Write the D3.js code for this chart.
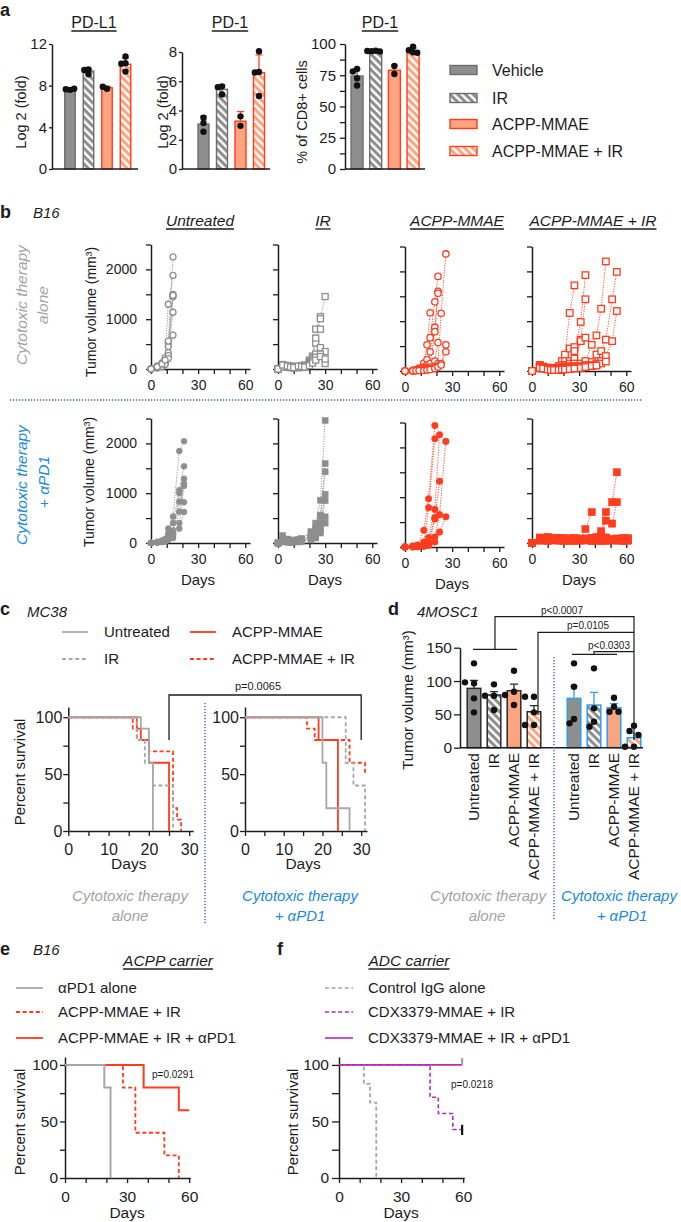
<!DOCTYPE html>
<html><head><meta charset="utf-8">
<script src="https://cdn.jsdelivr.net/npm/d3@7"></script>
<style>body{margin:0;background:#fff}svg{display:block;background:#fff}</style>
</head><body><svg id="c" width="681" height="1222"></svg>
<script>
// ---------------- DATA ----------------
// Panel a
const aGroups = ["Vehicle", "IR", "ACPP-MMAE", "ACPP-MMAE + IR"];
const pdl1Mean = [7.65, 9.4, 7.8, 10.05];
const pdl1Err = [0.05, 0.2, 0.12, 0.6];
const pdl1Pts = [[7.6, 7.65, 7.7], [9.55, 9.5, 9.1], [7.7, 7.9], [10.8, 10.15, 10.1, 9.35]];
const pd1Mean = [3.07, 5.45, 3.27, 6.58];
const pd1Err = [0.55, 0.3, 0.65, 1.22];
const pd1Pts = [[3.5, 3.15, 2.55], [5.65, 5.6, 5.1], [3.6, 2.95], [8.05, 6.64, 6.6, 4.99]];
const cd8Mean = [74.4, 94.3, 79, 94.6];
const cd8Err = [5.5, 0.6, 4, 2.2];
const cd8Pts = [[80, 78, 72.6, 66.8], [94.6, 94.3, 94.1, 94.4], [82.4, 76], [97.9, 95, 93.4, 93]];

// Panel b (tumour growth per mouse: day, volume mm3)
const untreatedAloneDays = [0, 4, 7, 9, 11, 14];
const untreatedAlone = [
  [0, 40, 90, 200, 520, 2250], [0, 60, 120, 230, 1300, 1880], [0, 30, 70, 150, 330, 1500],
  [0, 50, 80, 130, 450, 1450], [0, 20, 60, 110, 270, 1140], [0, 35, 50, 90, 210, 680],
  [0, 45, 100, 180, 560, 1480]];
const irAloneDays = [0, 3, 6, 8, 10, 13, 15, 17, 20, 22, 24, 27, 30];
const irAlone = [
  [0, 90, 70, 50, 40, 50, 60, 80, 180, 260, 520, 1050, 1455],
  [0, 70, 60, 40, 50, 40, 50, 70, 150, 230, 800, 1010],
  [0, 60, 50, 60, 30, 30, 40, 60, 130, 200, 620, 800],
  [0, 50, 40, 30, 40, 50, 30, 50, 110, 180, 300, 430, 350],
  [0, 40, 50, 30, 20, 30, 40, 40, 90, 150, 235, 300, 110],
  [0, 80, 60, 40, 30, 60, 50, 40, 70, 120, 180, 250, 200]];
const acppAloneDays = [0, 5, 7, 9, 12, 14, 16, 19, 21, 23, 26];
const acppAlone = [
  [0, 10, 20, 60, 160, 525, 1170],
  [0, 15, 25, 40, 80, 230, 670, 1390, 1900],
  [0, 10, 20, 30, 50, 120, 385, 880, 1600],
  [0, 5, 15, 20, 40, 80, 150, 790, 1560],
  [0, 5, 10, 20, 30, 50, 80, 200, 570],
  [0, 5, 10, 15, 20, 30, 50, 90, 150, 1160, 2350],
  [0, 5, 10, 10, 15, 25, 40, 60, 100, 150, 525],
  [0, 5, 5, 10, 10, 20, 30, 50, 80, 120, 385]];
const acppIrAloneDays = [0, 5, 7, 10, 12, 14, 17, 19, 21, 24, 27, 31, 34, 38, 41, 44, 47, 51, 54];
const acppIrAlone = [
  [0, 120, 90, 60, 50, 60, 100, 200, 330, 1165, 1720],
  [0, 100, 80, 60, 40, 50, 70, 120, 200, 450, 480],
  [0, 110, 70, 50, 60, 40, 60, 80, 120, 200, 400, 985, 1925],
  [0, 90, 80, 70, 40, 50, 50, 70, 100, 150, 250, 630, 1440],
  [0, 80, 60, 40, 30, 40, 50, 60, 80, 100, 150, 600, 670],
  [0, 100, 70, 50, 40, 30, 40, 50, 60, 80, 100, 150, 200, 525, 715, 1250, 2200],
  [0, 90, 60, 50, 40, 30, 30, 40, 50, 60, 80, 100, 120, 180, 330, 400, 630, 1440, 1990],
  [0, 80, 60, 40, 30, 20, 30, 40, 50, 60, 70, 80, 100, 120, 150, 200, 300, 600, 1205],
  [0, 70, 50, 40, 30, 20, 30, 30, 40, 50, 60, 70, 80, 100, 120, 150, 190],
  [0, 60, 50, 30, 20, 20, 20, 30, 30, 40, 50, 60, 80, 100, 110]];
const untreatedPD1Days = [0, 4, 7, 9, 11, 14, 18, 21];
const untreatedPD1 = [
  [0, 20, 50, 80, 150, 530, 1845, 2045], [0, 25, 40, 60, 290, 400, 1060, 1540],
  [0, 10, 30, 70, 200, 250, 830, 1290], [0, 15, 30, 50, 100, 200, 630, 1190],
  [0, 10, 20, 40, 80, 150, 400, 1145], [0, 10, 20, 30, 60, 100, 290, 625],
  [0, 15, 35, 60, 120, 180, 1000, 820]];
const irPD1Days = [0, 3, 6, 8, 10, 13, 15, 21, 24, 27, 30];
const irPD1 = [
  [0, 150, 80, 60, 50, 70, 80, 230, 400, 860, 2460],
  [0, 100, 60, 40, 60, 50, 90, 200, 300, 560, 1595],
  [0, 80, 50, 30, 40, 60, 70, 150, 250, 525, 1430],
  [0, 60, 40, 50, 30, 40, 60, 120, 200, 400, 980],
  [0, 40, 30, 20, 30, 30, 50, 100, 150, 300, 850],
  [0, 30, 20, 20, 20, 30, 40, 80, 120, 250, 525],
  [0, 20, 20, 10, 20, 20, 30, 60, 100, 200, 400]];
const acppPD1Days = [0, 5, 8, 12, 15, 19, 22, 26];
const acppPD1 = [
  [0, 20, 40, 335, 970, 2440], [0, 10, 30, 100, 790, 2175],
  [0, 10, 20, 50, 190, 755, 2255], [0, 5, 10, 30, 100, 590, 1320],
  [0, 5, 10, 20, 50, 200, 650, 2120], [0, 5, 10, 20, 40, 100, 300, 605],
  [0, 5, 8, 15, 30, 560]];
const acppIrPD1Days = [0, 5, 10, 14, 17, 20, 24, 27, 31, 34, 38, 41, 44, 47, 51, 54, 58, 61];
const acppIrPD1 = [
  [0, 90, 110, 80, 70, 90, 60, 80, 70, 280, 620],
  [0, 100, 80, 90, 100, 80, 90, 70, 80, 90, 100, 120, 235, 620, 820, 1420],
  [0, 80, 90, 100, 70, 60, 80, 90, 60, 70, 80, 100, 150, 450, 390, 820],
  [0, 110, 100, 90, 100, 80, 90, 100, 80, 70, 90, 80, 100, 90, 80, 90, 100, 80],
  [0, 70, 60, 80, 60, 70, 50, 60, 70, 60, 50, 70, 60, 50, 60, 70, 80, 60],
  [0, 50, 40, 60, 50, 40, 50, 40, 50, 60, 40, 50, 40, 50, 60, 50, 40, 50],
  [0, 90, 120, 70, 90, 100, 80, 60, 90, 80, 100, 70, 90, 110, 70, 60, 90, 100]];

// Panel c (Kaplan-Meier steps: [day, % survival after drop])
const cLegend = ["Untreated", "IR", "ACPP-MMAE", "ACPP-MMAE + IR"];
const kmAloneUntreated = [[0, 100], [18, 90], [20, 60], [21, 0]];
const kmAloneIR = [[0, 100], [17, 80], [19, 60], [21, 40], [26, 0]];
const kmAloneACPP = [[0, 100], [17, 90], [18, 80], [20, 60], [25, 0]];
const kmAloneACPPIR = [[0, 100], [16, 90], [17, 80], [20, 70], [26, 20], [27, 10], [28, 0]];
const kmPD1Untreated = [[0, 100], [20, 60], [21, 20], [27, 0]];
const kmPD1IR = [[0, 100], [26, 60], [28, 40], [31, 0]];
const kmPD1ACPP = [[0, 100], [19, 80], [24, 0]];
const kmPD1ACPPIR = [[0, 100], [16, 90], [18, 80], [27, 60], [31, 50]];

// Panel d
const dGroups = ["Untreated", "IR", "ACPP-MMAE", "ACPP-MMAE + IR"];
const dAloneMean = [89, 79, 85.5, 54];
const dAloneSem = [12, 5, 10, 9];
const dAlonePts = [[126.5, 96.5, 98, 74, 53], [95, 78, 78, 56.5], [115.5, 84, 79, 64], [76.5, 76.5, 53, 34, 34]];
const dPD1Mean = [74, 64, 60, 15];
const dPD1Sem = [18, 19, 6, 7];
const dPD1Pts = [[126.5, 91.5, 43, 36.5], [119, 59, 39, 31.5], [75, 61.5, 54, 54], [33, 25, 19, 1.5, 1.5]];
const dPvals = ["p<0.0007", "p=0.0105", "p<0.0303"];

// Panel e
const eLegend = ["\u03b1PD1 alone", "ACPP-MMAE + IR", "ACPP-MMAE + IR + \u03b1PD1"];
const kmE_PD1 = [[0, 100], [19, 80], [22, 0]];
const kmE_ACPPIR = [[0, 100], [28, 80], [34, 40], [48, 20], [55, 0]];
const kmE_ACPPIRPD1 = [[0, 100], [38, 80], [55, 60], [60, 60]];
// Panel f
const fLegend = ["Control IgG alone", "CDX3379-MMAE + IR", "CDX3379-MMAE + IR + \u03b1PD1"];
const kmF_IgG = [[0, 100], [12, 83.3], [15, 66.7], [18, 0]];
const kmF_CDXIR = [[0, 100], [44, 71.4], [48, 57.1], [55, 42.9], [59.5, 42.9]];
const kmF_CDXIRPD1 = [[0, 100], [59.5, 100]];

// ---------------- DRAWING ----------------
const FONT = "'Liberation Sans', Arial, Helvetica, sans-serif";
const DARK = "#1c1c1c", GRAY = "#8e8e8e", GRAY_S = "#6e6e6e", ORANGE = "#fba47f", RED = "#ff3c1e",
  LGRAY = "#a8a8a8", TGRAY = "#a3a3a3", BLUE_T = "#1b8ad8", BLUE_SEP = "#3b62c4", PURPLE = "#b32db8", BAR_BLUE = "#2b9ff0";
const svg = d3.select("#c").attr("font-family", FONT);
const defs = svg.append("defs");
function hatch(id, bg) {
  const p = defs.append("pattern").attr("id", id).attr("patternUnits", "userSpaceOnUse")
    .attr("width", 5.5).attr("height", 5.5).attr("patternTransform", "rotate(-45)");
  p.append("rect").attr("width", 5.5).attr("height", 5.5).attr("fill", bg);
  p.append("rect").attr("width", 2.4).attr("height", 5.5).attr("fill", "#fff");
}
hatch("hg", GRAY); hatch("ho", ORANGE);

function T(x, y, s, o = {}) {
  const t = svg.append("text").attr("x", x).attr("y", y).text(s)
    .attr("font-size", o.fs || 15).attr("text-anchor", o.anchor || "start")
    .attr("fill", o.fill || DARK);
  if (o.italic) t.attr("font-style", "italic");
  if (o.bold) t.attr("font-weight", "bold");
  if (o.dy) t.attr("dy", o.dy);
  if (o.rot) t.attr("transform", `rotate(${o.rot},${x},${y})`);
  if (o.ul) {
    const w = t.node().getComputedTextLength();
    const x0 = o.anchor === "middle" ? x - w / 2 : x;
    svg.append("line").attr("x1", x0).attr("x2", x0 + w).attr("y1", y + 3).attr("y2", y + 3)
      .attr("stroke", o.fill || DARK).attr("stroke-width", 1.3);
  }
  return t;
}
function styleAx(g, fs) {
  g.attr("font-family", FONT).attr("font-size", fs);
  g.select(".domain").attr("stroke", DARK).attr("stroke-width", 1.5);
  g.selectAll(".tick line").attr("stroke", DARK).attr("stroke-width", 1.3);
  g.selectAll(".tick text").attr("fill", DARK);
}
function axL(x, scale, ticks, labels, o = {}) {
  const g = svg.append("g").attr("transform", `translate(${x},0)`);
  g.call(d3.axisLeft(scale).tickValues(ticks).tickFormat(d => labels.includes(d) ? String(d) : "")
    .tickSize(o.ts ?? 5).tickPadding(o.tp ?? 3).tickSizeOuter(0));
  styleAx(g, o.fs ?? 15);
  return g;
}
function axB(y, scale, ticks, labels, o = {}) {
  const g = svg.append("g").attr("transform", `translate(0,${y})`);
  g.call(d3.axisBottom(scale).tickValues(ticks).tickFormat(d => labels.includes(d) ? String(d) : "")
    .tickSize(o.ts ?? 5).tickPadding(o.tp ?? 6).tickSizeOuter(0));
  styleAx(g, o.fs ?? 14);
  return g;
}
function dodge(vals, y, cx, minDist, step) {
  const placed = [];
  return vals.map(v => {
    const yy = y(v);
    for (const o of [0, -step, step, -2 * step, 2 * step]) {
      if (placed.every(p => Math.hypot(p[0] - (cx + o), p[1] - yy) >= minDist)) {
        placed.push([cx + o, yy]); return [cx + o, yy];
      }
    }
    placed.push([cx, yy]); return [cx, yy];
  });
}
const fills = [GRAY, "url(#hg)", ORANGE, "url(#ho)"];
const strokes = [GRAY_S, GRAY_S, RED, RED];

// Panel labels
T(0, 16, "a", { fs: 18, bold: true });
T(0, 218, "b", { fs: 18, bold: true }); T(33, 218, "B16", { fs: 15, italic: true });
T(0, 615, "c", { fs: 18, bold: true }); T(27, 617, "MC38", { fs: 15, italic: true });
T(388, 615, "d", { fs: 18, bold: true }); T(417, 617, "4MOSC1", { fs: 15, italic: true });
T(0, 955, "e", { fs: 18, bold: true }); T(33, 955, "B16", { fs: 15, italic: true });
T(277, 955, "f", { fs: 18, bold: true });

// ---- Panel a ----
function barPanel(cfg) {
  const y = d3.scaleLinear().domain(cfg.dom).range([169, cfg.top]);
  const xb = d3.scaleBand().domain(aGroups).range([cfg.start, cfg.start + 4 * cfg.step]);
  aGroups.forEach((g, i) => {
    const cx = xb(g) + cfg.step / 2;
    svg.append("rect").attr("x", cx - cfg.bw / 2).attr("y", y(cfg.mean[i])).attr("width", cfg.bw)
      .attr("height", y(0) - y(cfg.mean[i])).attr("fill", fills[i]).attr("stroke", strokes[i]).attr("stroke-width", 1.4);
    const ye = y(cfg.mean[i] + cfg.err[i]);
    svg.append("path").attr("d", `M${cx},${y(cfg.mean[i])}V${ye}M${cx - 3.5},${ye}H${cx + 3.5}`)
      .attr("stroke", strokes[i]).attr("stroke-width", 1.3).attr("fill", "none");
    dodge(cfg.pts[i], y, cx, 4.2, 4.2).forEach(p =>
      svg.append("circle").attr("cx", p[0]).attr("cy", p[1]).attr("r", 3.2).attr("fill", "#111"));
  });
  axL(cfg.ax, y, cfg.ticks, cfg.labels, { ts: cfg.ts, tp: cfg.tp, fs: 15 });
  svg.append("line").attr("x1", cfg.ax).attr("x2", cfg.xend).attr("y1", 169).attr("y2", 169)
    .attr("stroke", DARK).attr("stroke-width", 1.5);
  T(cfg.titleX, 28, cfg.title, { fs: 16, anchor: "middle", ul: true });
  T(cfg.ylx, 112, cfg.ylab, { fs: 14.5, anchor: "middle", rot: -90, dy: "0.35em" });
}
barPanel({ dom: [0, 12], top: 44, start: 60.75, step: 18.5, bw: 10.5, ax: 52, xend: 138, mean: pdl1Mean, err: pdl1Err, pts: pdl1Pts,
  ticks: [0, 4, 8, 12], labels: [0, 4, 8, 12], ts: 3, tp: 2, title: "PD-L1", titleX: 94, ylab: "Log 2 (fold)", ylx: 21 });
barPanel({ dom: [0, 8], top: 52, start: 194.25, step: 18.5, bw: 11, ax: 182, xend: 270, mean: pd1Mean, err: pd1Err, pts: pd1Pts,
  ticks: [0, 2, 4, 6, 8], labels: [0, 2, 4, 6, 8], ts: 3, tp: 2, title: "PD-1", titleX: 230, ylab: "Log 2 (fold)", ylx: 163 });
barPanel({ dom: [0, 100], top: 44, start: 347.7, step: 18.67, bw: 12, ax: 345, xend: 425, mean: cd8Mean, err: cd8Err, pts: cd8Pts,
  ticks: d3.range(0, 101, 12.5), labels: [0, 25, 50, 75, 100], ts: 5, tp: 4, title: "PD-1", titleX: 380, ylab: "% of CD8+ cells", ylx: 302 });
// legend a
aGroups.forEach((g, i) => {
  const yy = [70, 98, 124, 151][i];
  svg.append("rect").attr("x", 450).attr("y", yy - 4.5).attr("width", 27).attr("height", 9)
    .attr("fill", fills[i]).attr("stroke", strokes[i]).attr("stroke-width", 1.4);
  T(492, yy, g, { fs: 16, dy: "0.35em" });
});

// ---- Panel b ----
const bCols = [
  { title: "Untreated", tx: 200, x0: 151, top: [untreatedAloneDays, untreatedAlone, "circle", false, GRAY, 3], bot: [untreatedPD1Days, untreatedPD1, "circle", true, GRAY, 3] },
  { title: "IR", tx: 323, x0: 278, top: [irAloneDays, irAlone, "square", false, GRAY, 6], bot: [irPD1Days, irPD1, "square", true, GRAY, 6] },
  { title: "ACPP-MMAE", tx: 457, x0: 405, top: [acppAloneDays, acppAlone, "circle", false, RED, 3.2], bot: [acppPD1Days, acppPD1, "circle", true, RED, 3.3] },
  { title: "ACPP-MMAE + IR", tx: 593, x0: 532, top: [acppIrAloneDays, acppIrAlone, "square", false, RED, 6.5], bot: [acppIrPD1Days, acppIrPD1, "square", true, RED, 7.2] }];
const topBase = [369, 369, 371, 371], botBase = [543, 543, 547, 543];
function spaghetti(ci, base, spec, row) {
  const col = bCols[ci];
  const x = d3.scaleLinear().domain([0, 63]).range([col.x0, col.x0 + 99]);
  const y = d3.scaleLinear().domain([0, 2500]).range([base, base - 124.5]);
  axL(col.x0, y, d3.range(0, 2501, 500), ci === 0 ? [0, 1000, 2000] : [], { ts: 5, tp: 9, fs: 14 });
  axB(base, x, d3.range(0, 61, 10), [0, 30, 60], { ts: 5, tp: 6, fs: 14 });
  const [days, vals, shape, filled, color, size] = spec;
  const mice = vals.map(v => v.map((val, i) => [days[i], val]));
  const line = d3.line().x(d => x(d[0])).y(d => y(d[1]));
  const g = svg.append("g");
  mice.forEach(m => g.append("path").attr("d", line(m)).attr("fill", "none").attr("stroke", color)
    .attr("stroke-width", 0.9).attr("stroke-dasharray", "1.2,1.3"));
  mice.forEach(m => m.forEach(d => {
    const mk = shape === "circle"
      ? g.append("circle").attr("cx", x(d[0])).attr("cy", y(d[1])).attr("r", size)
      : g.append("rect").attr("x", x(d[0]) - size / 2).attr("y", y(d[1]) - size / 2).attr("width", size).attr("height", size);
    mk.attr("fill", filled ? color : "#fff").attr("stroke", color).attr("stroke-width", filled ? 0.5 : 1.3);
  }));
  if (row === 1) T(col.x0 + 47, base + 42, "Days", { fs: 15, anchor: "middle" });
}
bCols.forEach((c, i) => {
  T(c.tx, 226, c.title, { fs: 15.5, anchor: "middle", italic: true, ul: true });
  spaghetti(i, topBase[i], c.top, 0);
  spaghetti(i, botBase[i], c.bot, 1);
});
T(91, 312, "Tumor volume (mm\u00b3)", { fs: 14, anchor: "middle", rot: -90, dy: "0.35em" });
T(89, 482, "Tumor volume (mm\u00b3)", { fs: 14, anchor: "middle", rot: -90, dy: "0.35em" });
T(22, 305, "Cytotoxic therapy", { fs: 15.5, anchor: "middle", rot: -90, dy: "0.35em", italic: true, fill: TGRAY });
T(43, 305, "alone", { fs: 15.5, anchor: "middle", rot: -90, dy: "0.35em", italic: true, fill: TGRAY });
T(22, 485, "Cytotoxic therapy", { fs: 15.5, anchor: "middle", rot: -90, dy: "0.35em", italic: true, fill: BLUE_T });
T(44, 482, "+ \u03b1PD1", { fs: 15.5, anchor: "middle", rot: -90, dy: "0.35em", italic: true, fill: BLUE_T });
svg.append("line").attr("x1", 10).attr("x2", 642).attr("y1", 400).attr("y2", 400)
  .attr("stroke", BLUE_SEP).attr("stroke-width", 1.4).attr("stroke-dasharray", "1.3,1.7");

// ---- Panel c ----
const kmStep = d3.line().curve(d3.curveStepAfter);
function km(x, y, pts, color, dashed, w = 1.8) {
  svg.append("path").attr("d", kmStep.x(d => x(d[0])).y(d => y(d[1]))(pts)).attr("fill", "none")
    .attr("stroke", color).attr("stroke-width", w).attr("stroke-dasharray", dashed ? "4,2.6" : null);
}
const cY = d3.scaleLinear().domain([0, 109]).range([831, 707]);
const cXL = d3.scaleLinear().domain([0, 31]).range([68.3, 193.2]);
const cXR = d3.scaleLinear().domain([0, 31.5]).range([245, 367]);
[[cXL, 68.3], [cXR, 245]].forEach(([xs, ax]) => {
  axL(ax, cY, [0, 25, 50, 75, 100], [0, 50, 100], { ts: 5, tp: 1, fs: 16 });
  axB(831, xs, d3.range(0, 31, 5), [0, 10, 20, 30], { ts: 5, tp: 8, fs: 16 });
  T((xs(0) + xs(30)) / 2, 869, "Days", { fs: 15.5, anchor: "middle" });
});
km(cXL, cY, kmAloneACPP, RED, false); km(cXL, cY, kmAloneACPPIR, RED, true);
km(cXL, cY, kmAloneIR, LGRAY, true); km(cXL, cY, kmAloneUntreated, LGRAY, false);
km(cXR, cY, kmPD1ACPP, RED, false); km(cXR, cY, kmPD1ACPPIR, RED, true);
km(cXR, cY, kmPD1IR, LGRAY, true); km(cXR, cY, kmPD1Untreated, LGRAY, false);
T(20, 772, "Percent survival", { fs: 15, anchor: "middle", rot: -90, dy: "0.35em" });
// legend c
[[62, 632, LGRAY, false], [62, 659, LGRAY, true], [190, 632, RED, false], [190, 659, RED, true]].forEach((L, i) => {
  svg.append("line").attr("x1", L[0]).attr("x2", L[0] + 26).attr("y1", L[1]).attr("y2", L[1])
    .attr("stroke", L[2]).attr("stroke-width", 1.8).attr("stroke-dasharray", L[3] ? "4,2.6" : null);
  T(L[0] + 42, L[1], cLegend[i], { fs: 15, dy: "0.35em" });
});
// bracket c
svg.append("path").attr("d", `M${cXL(25)},740V695H${cXR(30)}V740`).attr("fill", "none").attr("stroke", DARK).attr("stroke-width", 1.3);
T(258, 690, "p=0.0065", { fs: 11, anchor: "middle" });
svg.append("line").attr("x1", 205).attr("x2", 205).attr("y1", 703).attr("y2", 924)
  .attr("stroke", BLUE_SEP).attr("stroke-width", 1.4).attr("stroke-dasharray", "1.3,1.7");
T(130, 901, "Cytotoxic therapy", { fs: 15, anchor: "middle", italic: true, fill: TGRAY });
T(130, 921, "alone", { fs: 15, anchor: "middle", italic: true, fill: TGRAY });
T(300, 901, "Cytotoxic therapy", { fs: 15, anchor: "middle", italic: true, fill: BLUE_T });
T(300, 921, "+ \u03b1PD1", { fs: 15, anchor: "middle", italic: true, fill: BLUE_T });

// ---- Panel d ----
const dY = d3.scaleLinear().domain([0, 150]).range([747.7, 647.7]);
const dSlots = ["a0", "a1", "a2", "a3", "gap", "b0", "b1", "b2", "b3"];
const dX = d3.scaleBand().domain(dSlots).range([464, 644]);
function dBars(prefix, means, sems, pts, outline) {
  dGroups.forEach((g, i) => {
    const cx = dX(prefix + i) + dX.bandwidth() / 2;
    const oc = outline || "#2a2a2a";
    svg.append("rect").attr("x", cx - 6.8).attr("y", dY(means[i])).attr("width", 13.6).attr("height", dY(0) - dY(means[i]))
      .attr("fill", fills[i]).attr("stroke", oc).attr("stroke-width", 1.5);
    const ye = dY(means[i] + sems[i]);
    svg.append("path").attr("d", `M${cx},${dY(means[i])}V${ye}M${cx - 4},${ye}H${cx + 4}`).attr("stroke", oc).attr("stroke-width", 1.3);
    dodge(pts[i], dY, cx, 6.2, 4.5).forEach(p => svg.append("circle").attr("cx", p[0]).attr("cy", p[1]).attr("r", 3.2).attr("fill", "#111"));
    T(cx, 753, g, { fs: 15.5, anchor: "end", rot: -90, dy: "0.35em" });
  });
}
dBars("a", dAloneMean, dAloneSem, dAlonePts, null);
dBars("b", dPD1Mean, dPD1Sem, dPD1Pts, BAR_BLUE);
axL(460, dY, [0, 50, 100, 150], [0, 50, 100, 150], { ts: 6, tp: 2, fs: 15.5 });
svg.append("line").attr("x1", 460).attr("x2", 643).attr("y1", 747.7).attr("y2", 747.7).attr("stroke", DARK).attr("stroke-width", 1.5);
T(408, 700, "Tumor volume (mm\u00b3)", { fs: 15, anchor: "middle", rot: -90, dy: "0.35em" });
svg.append("line").attr("x1", 554).attr("x2", 554).attr("y1", 657).attr("y2", 921)
  .attr("stroke", BLUE_SEP).attr("stroke-width", 1.4).attr("stroke-dasharray", "1.3,1.7");
const br = svg.append("g").attr("fill", "none").attr("stroke", DARK).attr("stroke-width", 1.2);
br.append("path").attr("d", "M473,649.3H517M495,649.3V616.7H634V740");
br.append("path").attr("d", "M538,715V632.3H634");
br.append("path").attr("d", "M572,654.3H617M594,654.3V651.7H634");
T(562, 614, dPvals[0], { fs: 10, anchor: "middle" });
T(588, 628.5, dPvals[1], { fs: 10, anchor: "middle" });
T(609, 649, dPvals[2], { fs: 10, anchor: "middle" });
T(488, 901, "Cytotoxic therapy", { fs: 15, anchor: "middle", italic: true, fill: TGRAY });
T(487, 921, "alone", { fs: 15, anchor: "middle", italic: true, fill: TGRAY });
T(619, 901, "Cytotoxic therapy", { fs: 15, anchor: "middle", italic: true, fill: BLUE_T });
T(622, 921, "+ \u03b1PD1", { fs: 15, anchor: "middle", italic: true, fill: BLUE_T });

// ---- Panels e, f ----
const efY = d3.scaleLinear().domain([0, 107]).range([1178, 1057]);
const eX = d3.scaleLinear().domain([0, 60.5]).range([65, 190.2]);
const fX = d3.scaleLinear().domain([0, 60.5]).range([339, 464.2]);
axL(65, efY, [0, 25, 50, 75, 100], [0, 50, 100], { ts: 5, tp: 2, fs: 15.5 });
axB(1178, eX, d3.range(0, 61, 10), [0, 30, 60], { ts: 5, tp: 8, fs: 15.5 });
axL(339, efY, [0, 25, 50, 75, 100], [0, 50, 100], { ts: 7, tp: 3, fs: 15.5 });
axB(1178, fX, d3.range(0, 61, 10), [0, 30, 60], { ts: 5, tp: 8, fs: 15.5 });
T(eX(30), 1218, "Days", { fs: 15.5, anchor: "middle" });
T(fX(30), 1218, "Days", { fs: 15.5, anchor: "middle" });
T(20, 1122, "Percent survival", { fs: 15, anchor: "middle", rot: -90, dy: "0.35em" });
T(293, 1122, "Percent survival", { fs: 15, anchor: "middle", rot: -90, dy: "0.35em" });
km(eX, efY, kmE_ACPPIRPD1, RED, false, 2); km(eX, efY, kmE_ACPPIR, RED, true, 1.8); km(eX, efY, kmE_PD1, LGRAY, false, 2);
km(fX, efY, kmF_IgG, LGRAY, true, 1.8); km(fX, efY, kmF_CDXIR, PURPLE, true, 1.6); km(fX, efY, kmF_CDXIRPD1, PURPLE, false, 1.6);
svg.append("line").attr("x1", fX(59.5)).attr("x2", fX(59.5)).attr("y1", efY(38)).attr("y2", efY(47)).attr("stroke", "#111").attr("stroke-width", 2.2);
svg.append("line").attr("x1", fX(59.5)).attr("x2", fX(59.5)).attr("y1", efY(100)).attr("y2", efY(106)).attr("stroke", "#999").attr("stroke-width", 2);
T(152, 1078, "p=0.0291", { fs: 10 });
T(451, 1088, "p=0.0218", { fs: 10 });
T(168, 966, "ACPP carrier", { fs: 15.5, anchor: "middle", italic: true, ul: true });
T(409, 966, "ADC carrier", { fs: 15.5, anchor: "middle", italic: true, ul: true });
const eLeg = [[LGRAY, false], [RED, true], [RED, false]];
const fLeg = [[LGRAY, true], [PURPLE, true], [PURPLE, false]];
[988, 1012, 1038].forEach((yy, i) => {
  svg.append("line").attr("x1", 16).attr("x2", 43).attr("y1", yy).attr("y2", yy).attr("stroke", eLeg[i][0])
    .attr("stroke-width", 1.8).attr("stroke-dasharray", eLeg[i][1] ? "4,2.6" : null);
  T(58, yy, eLegend[i], { fs: 15, dy: "0.35em" });
  svg.append("line").attr("x1", 325).attr("x2", 353).attr("y1", yy).attr("y2", yy).attr("stroke", fLeg[i][0])
    .attr("stroke-width", 1.6).attr("stroke-dasharray", fLeg[i][1] ? "4,2.6" : null);
  T(368, yy, fLegend[i], { fs: 15, dy: "0.35em" });
});
</script></body></html>
